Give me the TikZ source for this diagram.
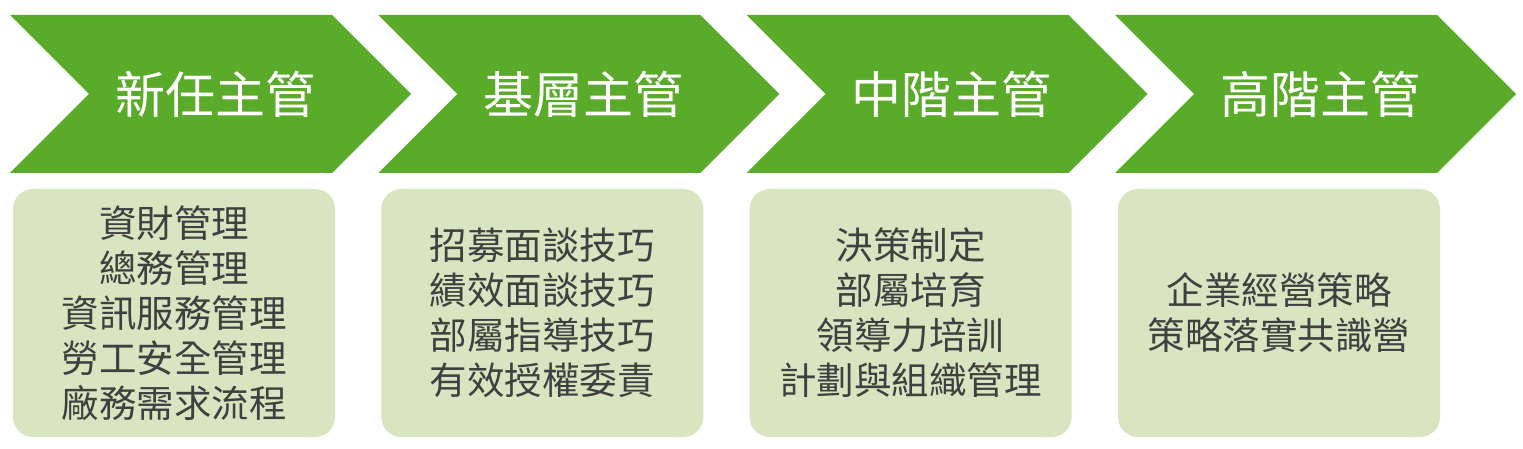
\documentclass[tikz,border=0pt]{standalone}
\usepackage{fontspec}
\newfontfamily\cjk{Noto Sans CJK TC}
\definecolor{chev}{HTML}{5AAB2A}
\definecolor{boxfill}{HTML}{D9E4C1}
\definecolor{boxtext}{HTML}{404040}
\begin{document}
\begin{tikzpicture}[x=1pt,y=-1pt,
  titletext/.style={text=white,font=\cjk\fontsize{50}{52}\selectfont,anchor=center,inner sep=0pt},
  itembox/.style={fill=boxfill,rounded corners=20pt,draw=none,minimum width=322pt,minimum height=248pt,inner sep=0pt},
  itemtext/.style={text=boxtext,font=\cjk\fontsize{37.5}{45}\selectfont,align=center,anchor=center,inner sep=0pt}]
\useasboundingbox (0,0) rectangle (1523,449);
\foreach \i/\t in {0/新任主管,1/基層主管,2/中階主管,3/高階主管}{
  \pgfmathsetmacro{\ox}{10+368.33*\i}
  \fill[chev] (\ox,15) -- (\ox+322,15) -- (\ox+401,94) -- (\ox+322,173) -- (\ox,173) -- (\ox+79,94) -- cycle;
  \node[titletext] (c\i) at (\ox+205,94) {\t};
  \node[itembox] (b\i) at (\ox+164,313) {};
}
\node[itemtext] (t0) at (b0.center) {資財管理\\總務管理\\資訊服務管理\\勞工安全管理\\廠務需求流程};
\node[itemtext] (t1) at (b1.center) {招募面談技巧\\績效面談技巧\\部屬指導技巧\\有效授權委責};
\node[itemtext] (t2) at (b2.center) {決策制定\\部屬培育\\領導力培訓\\計劃與組織管理};
\node[itemtext] (t3) at (b3.center) {企業經營策略\\策略落實共識營};
\end{tikzpicture}
\end{document}
